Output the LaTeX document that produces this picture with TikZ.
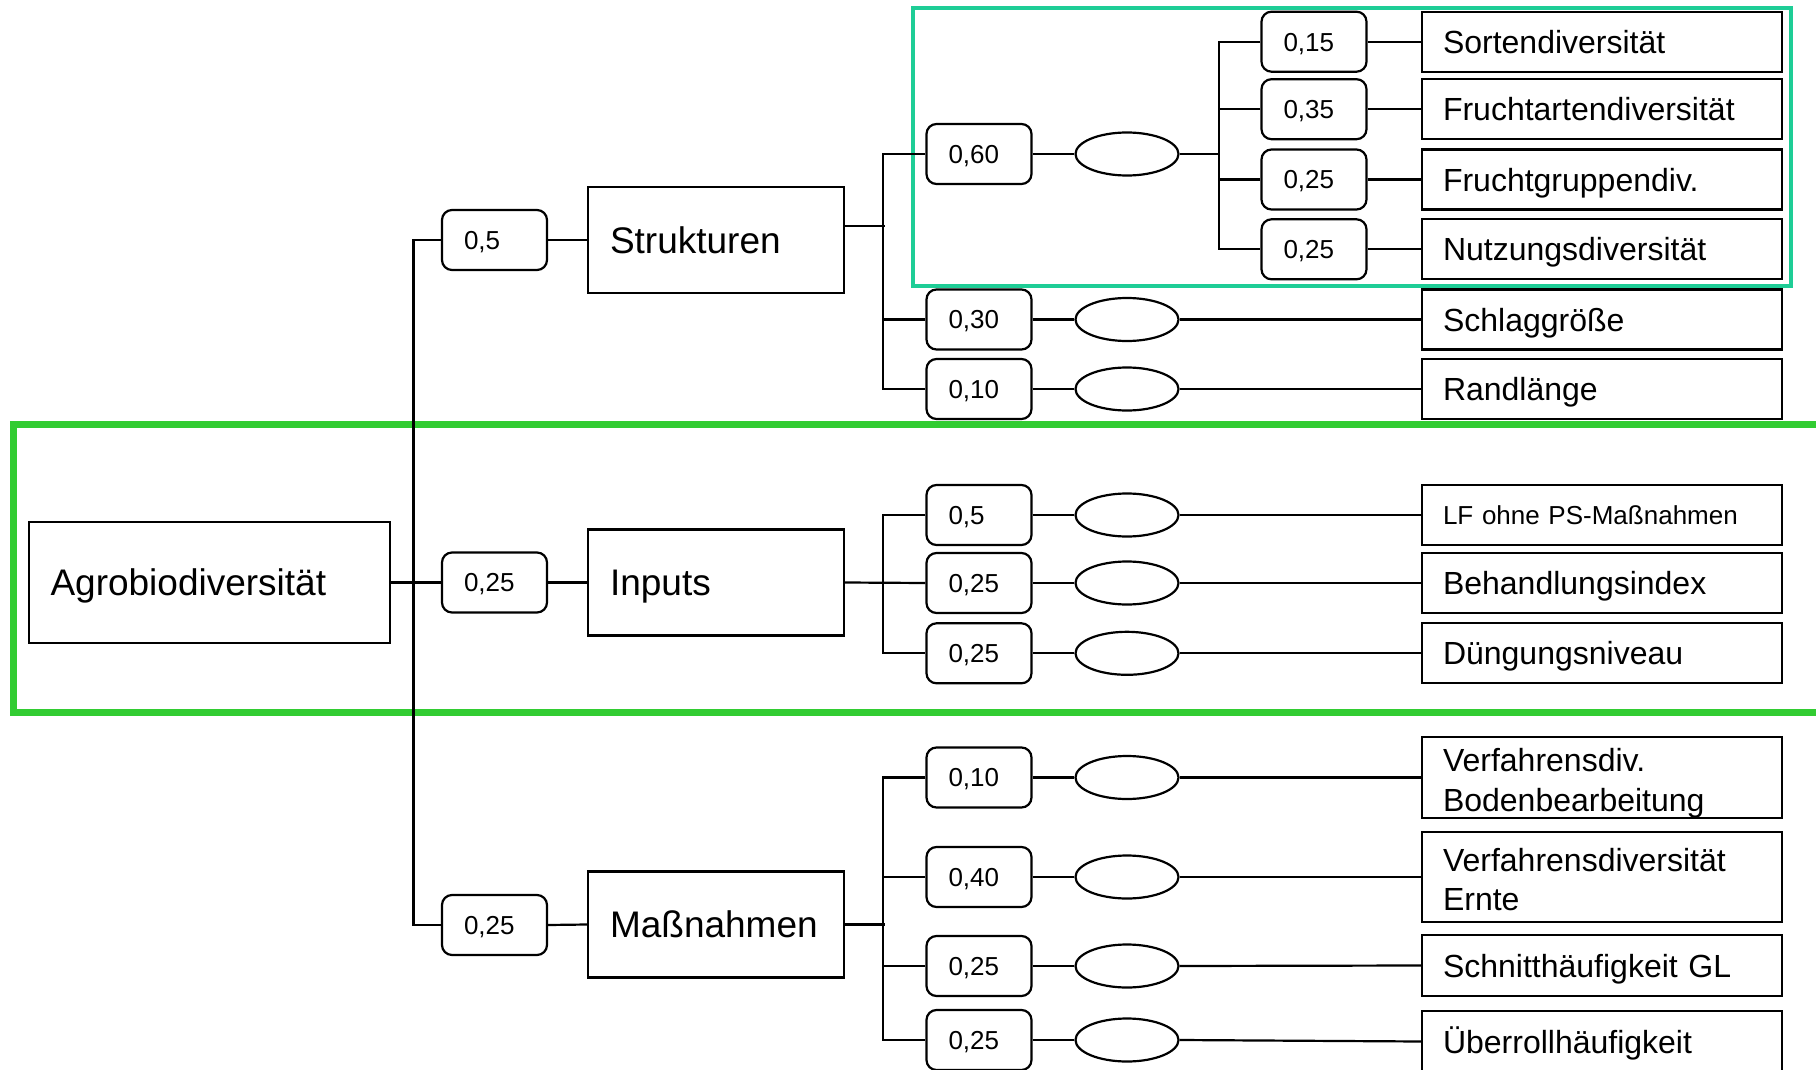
\documentclass[tikz,border=0pt]{standalone}
\usepackage{fontspec}
\setmainfont{Liberation Sans}
\usetikzlibrary{shapes.geometric}
\definecolor{tealframe}{RGB}{30,205,150}
\definecolor{greenframe}{RGB}{50,204,50}
\begin{document}
\begin{tikzpicture}[x=1pt,y=-1pt,
  ln/.style={line width=2.2pt},
  mainbox/.style={draw,ln,inner xsep=22pt,inner ysep=0pt,text width=212pt,minimum height=106pt,align=left,font=\fontsize{37}{44}\selectfont,text height=26.6pt,text depth=0pt},
  wbox/.style={draw,ln,rounded corners=10pt,inner xsep=22pt,inner ysep=0pt,text width=61pt,minimum height=60pt,align=left,font=\fontsize{26}{30}\selectfont,text height=18.7pt,text depth=0pt},
  leafbox/.style={draw,ln,inner xsep=21pt,inner ysep=0pt,text width=318pt,minimum height=60pt,align=left,font=\fontsize{32}{36}\selectfont,text height=23pt,text depth=0pt},
  leaftwo/.style={draw,ln,inner xsep=21pt,inner ysep=0pt,text width=318pt,align=left,font=\fontsize{32}{40}\selectfont,text height=23pt,text depth=34pt},
  oval/.style={draw,ln,ellipse,minimum width=103pt,minimum height=43pt,inner sep=0pt},
  conn/.style={ln,line join=miter}
]
\useasboundingbox (0,0) rectangle (1816,1070);
% frames
\draw[greenframe,line width=7pt] (13.5,424) rectangle (1840,712.5);
\draw[tealframe,line width=4pt] (913,8) rectangle (1791,285.5);

% root and main boxes
\node[mainbox,text width=318pt,inner xsep=21.5pt,minimum height=121pt] (agro) at (209.5,582.5) {Agrobiodiversität};
\node[mainbox] (strukt) at (716,240) {Strukturen};
\node[mainbox] (inputs) at (716,582.5) {Inputs};
\node[mainbox] (mass) at (716,924.5) {Maßnahmen};

% level-1 weights
\node[wbox] (wa) at (494.5,240) {0,5};
\node[wbox] (wb) at (494.5,582.5) {0,25};
\node[wbox] (wc) at (494.5,925) {0,25};

% level-2 weights
\node[wbox] (s1) at (979,154) {0,60};
\node[wbox] (s2) at (979,319.5) {0,30};
\node[wbox] (s3) at (979,389) {0,10};
\node[wbox] (i1) at (979,515) {0,5};
\node[wbox] (i2) at (979,583) {0,25};
\node[wbox] (i3) at (979,653.3) {0,25};
\node[wbox] (m1) at (979,777.5) {0,10};
\node[wbox] (m2) at (979,877) {0,40};
\node[wbox] (m3) at (979,966) {0,25};
\node[wbox] (m4) at (979,1040) {0,25};

% ellipses
\node[oval] (es1) at (1127,154) {};
\node[oval] (es2) at (1127,319.5) {};
\node[oval] (es3) at (1127,389) {};
\node[oval] (ei1) at (1127,515) {};
\node[oval] (ei2) at (1127,583) {};
\node[oval] (ei3) at (1127,653.3) {};
\node[oval] (em1) at (1127,777.5) {};
\node[oval] (em2) at (1127,877) {};
\node[oval] (em3) at (1127,966) {};
\node[oval] (em4) at (1127,1040) {};

% level-3 weights
\node[wbox] (t1) at (1314,41.7) {0,15};
\node[wbox] (t2) at (1314,109.2) {0,35};
\node[wbox] (t3) at (1314,179.5) {0,25};
\node[wbox] (t4) at (1314,249.3) {0,25};

% leaves
\node[leafbox] (l1) at (1602,41.7) {Sortendiversität};
\node[leafbox] (l2) at (1602,109.2) {Fruchtartendiversität};
\node[leafbox] (l3) at (1602,179.5) {Fruchtgruppendiv.};
\node[leafbox] (l4) at (1602,249.3) {Nutzungsdiversität};
\node[leafbox] (l5) at (1602,319.5) {Schlaggröße};
\node[leafbox] (l6) at (1602,389) {Randlänge};
\node[leafbox,font=\fontsize{26}{30}\selectfont,text height=18.7pt] (l7) at (1602,515) {LF ohne PS-Maßnahmen};
\node[leafbox] (l8) at (1602,583) {Behandlungsindex};
\node[leafbox] (l9) at (1602,653.3) {Düngungsniveau};
\node[leaftwo,minimum height=80.4pt,text depth=34.6pt] (l10) at (1602,777.5) {Verfahrensdiv.\\Bodenbearbeitung};
\node[leaftwo,minimum height=90.6pt,text depth=33.6pt,font=\fontsize{32}{39}\selectfont] (l11) at (1602,877) {Verfahrensdiversität\\Ernte};
\node[leafbox,minimum height=61pt] (l12) at (1602,965.5) {Schnitthäufigkeit GL};
\node[leafbox,minimum height=61pt] (l13) at (1602,1041.5) {Überrollhäufigkeit};

% connectors: root
\draw[conn] (agro.east) -- (wb.west);
\draw[conn] (wa.west) -- ++(-27.5,0) |- (wc.west);
\draw[conn] (wa.east) -- (strukt.west);
\draw[conn] (wb.east) -- (inputs.west);
\draw[conn] (wc.east) -- (mass.west);

% Strukturen group
\draw[conn] ([yshift=14pt]strukt.east) -- ++(40,0);
\draw[conn] (s1.west) -- ++(-42.5,0) |- (s3.west);
\draw[conn] (s2.west) -- ++(-42.5,0);
% Inputs group
\draw[conn] (inputs.east) -- (i2.west);
\draw[conn] (i1.west) -- ++(-42.5,0) |- (i3.west);
% Massnahmen group
\draw[conn] (mass.east) -- ++(40,0);
\draw[conn] (m1.west) -- ++(-42.5,0) |- (m4.west);
\draw[conn] (m2.west) -- ++(-42.5,0);
\draw[conn] (m3.west) -- ++(-42.5,0);

% weights to ellipses
\foreach \a/\b in {s1/es1,s2/es2,s3/es3,i1/ei1,i2/ei2,i3/ei3,m1/em1,m2/em2,m3/em3,m4/em4}
  \draw[conn] (\a.east) -- (\b.west);
% ellipses to leaves
\foreach \a/\b in {es2/l5,es3/l6,ei1/l7,ei2/l8,ei3/l9,em1/l10,em2/l11,em3/l12,em4/l13}
  \draw[conn] (\a.east) -- (\b.west);

% top sub-tree
\coordinate (j3) at (1220,154);
\draw[conn] (es1.east) -- (j3);
\draw[conn] (t1.west) -- ++(-41.6,0) |- (t4.west);
\draw[conn] (t2.west) -- ++(-41.6,0);
\draw[conn] (t3.west) -- ++(-41.6,0);
\foreach \a/\b in {t1/l1,t2/l2,t3/l3,t4/l4}
  \draw[conn] (\a.east) -- (\b.west);
\end{tikzpicture}
\end{document}
